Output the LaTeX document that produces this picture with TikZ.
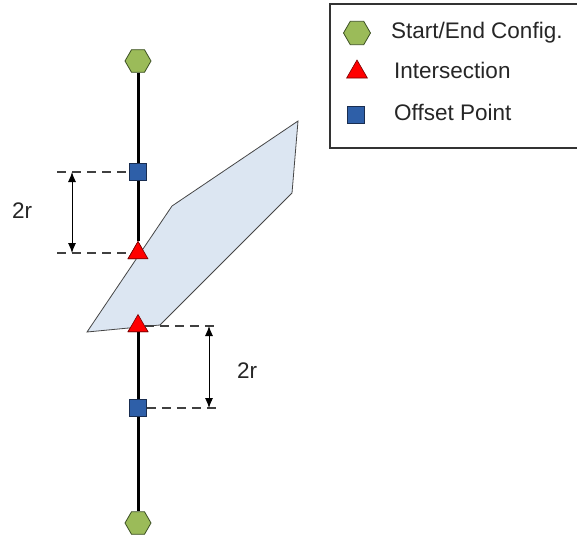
\documentclass[tikz,border=0pt]{standalone}
\usepackage{fontspec}
\setmainfont{Liberation Sans}
\usetikzlibrary{shapes.geometric,arrows.meta}
\definecolor{hexgreen}{RGB}{155,187,89}
\definecolor{hexedge}{RGB}{60,80,35}
\definecolor{sqblue}{RGB}{46,95,168}
\definecolor{sqedge}{RGB}{25,45,80}
\definecolor{trired}{RGB}{255,0,0}
\definecolor{triedge}{RGB}{120,0,0}
\definecolor{obstfill}{RGB}{220,230,242}
\definecolor{obstedge}{RGB}{70,70,70}
\tikzset{
  hexmark/.style={regular polygon, regular polygon sides=6, minimum size=26pt,
    inner sep=0pt, fill=hexgreen, draw=hexedge, line width=0.8pt},
  trimark/.style={regular polygon, regular polygon sides=3, minimum size=23pt,
    inner sep=0pt, fill=trired, draw=triedge, line width=0.6pt},
  sqmark/.style={rectangle, minimum size=17pt, inner sep=0pt,
    fill=sqblue, draw=sqedge, line width=0.6pt},
  pathline/.style={line width=3pt, black},
  dimline/.style={dash pattern=on 9pt off 6pt, line width=1.1pt, black!75},
  dimarrow/.style={{Latex[length=10pt,width=8pt]}-{Latex[length=10pt,width=8pt]}, line width=0.9pt},
  lbl/.style={inner sep=0pt, anchor=base west, font=\fontsize{22.5}{26}\selectfont, text=black!85}
}
\begin{document}
\begin{tikzpicture}[x=1pt,y=-1pt]
\clip (0,0) rectangle (577,538);
\fill[white] (0,0) rectangle (577,538);

% path markers
\node[hexmark] (hexTop) at (138,61) {};
\node[hexmark] (hexBot) at (138,523) {};
\node[sqmark] (sqUp) at (138,172) {};
\node[sqmark] (sqLow) at (138,408) {};
\node[trimark] (triUp) at (138,253) {};
\node[trimark] (triLow) at (138,326) {};

% robot path
\draw[pathline] (hexTop) -- (sqUp) -- (triUp);
\draw[pathline] (triLow) -- (sqLow) -- (hexBot);

% obstacle
\draw[fill=obstfill, draw=obstedge, line width=0.8pt]
  (87,332) -- (160,325) -- (292,193) -- (298,121) -- (172,206) -- cycle;

% markers on top of the obstacle
\node[trimark] at (triUp) {};
\node[trimark] at (triLow) {};

% upper offset dimension
\coordinate (dUa) at (57,172);
\coordinate (dUb) at (57,253);
\draw[dimline] (dUa) -- (sqUp);
\draw[dimline] (dUb) -- (triUp);
\coordinate (aUa) at (72,172);
\coordinate (aUb) at (72,253);
\draw[dimarrow] (aUa) -- (aUb);
\node[lbl] (rUp) at (12,218) {2r};

% lower offset dimension
\coordinate (dLa) at (218,326);
\coordinate (dLb) at (218,408);
\draw[dimline] (triLow) -- (dLa);
\draw[dimline] (sqLow) -- (dLb);
\coordinate (aLa) at (209,326);
\coordinate (aLb) at (209,408);
\draw[dimarrow] (aLa) -- (aLb);
\node[lbl] (rLow) at (237,378) {2r};

% legend
\draw[line width=1.5pt, black!80] (330,4) rectangle (585,148);
\node[hexmark, minimum size=27pt] (legHex) at (357,33) {};
\node[trimark, minimum size=24pt] (legTri) at (357,72) {};
\node[sqmark] (legSq) at (356,115) {};
\node[lbl] (legHexT) at (391,38) {Start/End Config.};
\node[lbl] (legTriT) at (394,78) {Intersection};
\node[lbl] (legSqT) at (394,120) {Offset Point};
\end{tikzpicture}
\end{document}
